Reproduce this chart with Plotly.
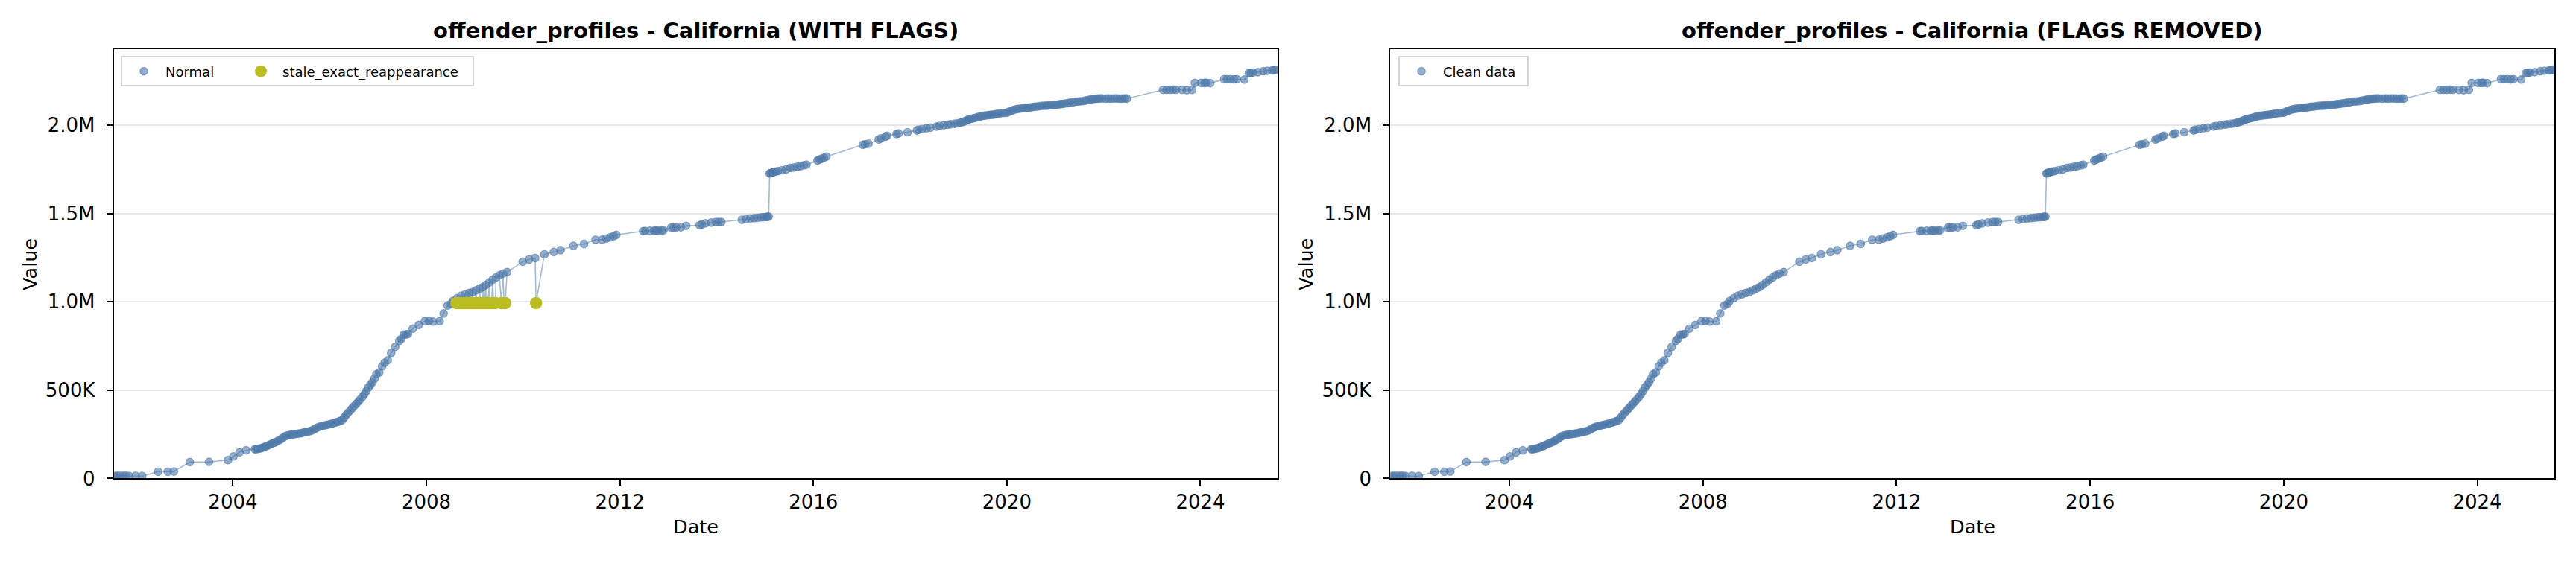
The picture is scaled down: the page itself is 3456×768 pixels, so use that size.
import plotly.graph_objects as go

# ---------------- data ----------------
normal_dates = [
    "2001-07-20", "2001-08-10", "2001-09-01", "2001-09-25", "2001-10-15", "2001-11-08", "2001-12-28", "2002-02-15",
    "2002-06-15", "2002-08-28", "2002-10-12", "2003-02-10", "2003-07-05", "2003-11-25", "2004-01-05", "2004-02-20", "2004-04-10", "2004-06-15",
    "2004-06-25", "2004-07-10", "2004-07-25", "2004-08-10", "2004-08-25", "2004-09-10", "2004-09-25", "2004-10-10", "2004-10-25", "2004-11-10", "2004-11-25", "2004-12-10", "2004-12-28", "2005-01-12", "2005-01-28", "2005-02-12", "2005-03-01", "2005-03-18", "2005-04-05", "2005-04-22", "2005-05-10", "2005-05-28", "2005-06-15",
    "2005-07-01", "2005-07-18", "2005-08-05", "2005-08-22", "2005-09-08", "2005-09-25", "2005-10-12", "2005-10-30", "2005-11-15", "2005-12-02", "2005-12-20", "2006-01-08", "2006-01-25", "2006-02-12", "2006-03-01", "2006-03-18", "2006-04-05",
    "2006-04-20", "2006-05-05", "2006-05-20", "2006-06-05", "2006-06-20", "2006-07-05", "2006-07-20", "2006-08-05", "2006-08-20", "2006-09-05", "2006-09-20", "2006-10-05", "2006-10-20", "2006-11-05", "2006-11-20", "2006-12-05", "2006-12-20",
    "2007-01-10", "2007-02-01", "2007-02-20", "2007-03-15", "2007-04-10", "2007-05-10", "2007-06-10", "2007-06-25", "2007-07-15", "2007-08-01", "2007-08-15", "2007-09-20", "2007-11-05", "2007-12-20", "2008-01-20", "2008-02-20", "2008-04-10", "2008-05-10", "2008-06-10", "2008-07-05",
    "2008-07-20", "2008-08-20", "2008-09-20", "2008-10-20", "2008-11-20", "2008-12-15", "2009-01-10", "2009-02-05", "2009-03-01", "2009-03-25", "2009-04-20", "2009-05-15", "2009-06-10", "2009-07-05", "2009-08-01", "2009-09-01",
    "2009-12-28", "2010-02-15", "2010-04-01", "2010-06-10", "2010-08-20", "2010-10-10", "2011-01-15", "2011-04-05", "2011-07-01", "2011-08-20", "2011-09-20", "2011-10-20", "2011-11-15", "2011-12-05",
    "2012-06-25", "2012-07-10", "2012-08-15", "2012-09-15", "2012-10-01", "2012-10-15", "2012-11-10", "2012-11-25", "2013-01-22", "2013-02-10", "2013-03-01", "2013-04-05", "2013-05-15", "2013-08-25", "2013-09-10", "2013-10-08", "2013-11-20", "2013-12-25", "2014-01-15", "2014-02-05",
    "2014-07-10", "2014-08-10", "2014-09-12", "2014-10-10", "2014-11-05", "2014-12-01", "2014-12-20", "2015-01-10", "2015-01-20", "2015-01-28",
    "2015-02-05", "2015-02-12", "2015-02-25", "2015-03-05", "2015-03-20", "2015-04-10", "2015-05-10", "2015-06-10", "2015-07-12", "2015-08-05", "2015-09-01", "2015-09-25", "2015-10-22", "2015-11-10", "2016-02-01", "2016-02-15", "2016-03-01", "2016-03-20", "2016-04-08",
    "2017-01-08", "2017-01-25", "2017-02-20", "2017-05-08", "2017-05-25", "2017-06-28", "2017-07-10", "2017-09-20", "2017-10-05", "2017-12-12", "2018-02-20", "2018-03-05", "2018-04-01", "2018-05-05", "2018-06-03", "2018-07-20", "2018-08-10", "2018-09-12", "2018-10-10", "2018-11-01", "2018-12-01", "2018-12-24",
    "2019-01-15", "2019-02-01", "2019-02-18", "2019-03-05", "2019-03-20", "2019-04-05", "2019-04-22", "2019-05-10", "2019-05-28", "2019-06-15", "2019-07-02", "2019-07-20", "2019-08-08", "2019-08-25", "2019-09-10", "2019-09-25", "2019-10-12", "2019-11-01", "2019-11-20", "2019-12-10",
    "2020-01-01", "2020-01-15", "2020-02-01", "2020-02-20", "2020-03-10", "2020-03-28", "2020-04-15", "2020-05-02", "2020-05-20", "2020-06-05", "2020-06-20", "2020-07-08", "2020-07-25", "2020-08-12", "2020-09-01", "2020-09-20", "2020-10-10", "2020-10-25", "2020-11-10", "2020-11-28", "2020-12-15",
    "2021-01-02", "2021-01-20", "2021-02-05", "2021-02-20", "2021-03-10", "2021-04-01", "2021-04-20", "2021-05-10", "2021-05-30", "2021-06-20", "2021-07-10", "2021-08-01", "2021-08-20", "2021-09-10", "2021-09-28", "2021-10-15", "2021-11-01", "2021-11-15", "2021-12-01", "2021-12-20",
    "2022-01-15", "2022-02-05", "2022-02-25", "2022-03-20", "2022-04-10", "2022-05-01", "2022-05-20", "2022-06-10", "2022-06-25",
    "2023-03-25", "2023-04-20", "2023-05-15", "2023-06-10", "2023-07-01", "2023-08-15", "2023-09-20", "2023-10-30", "2023-11-20", "2024-01-08", "2024-02-01", "2024-02-15", "2024-03-15",
    "2024-06-28", "2024-07-20", "2024-08-15", "2024-09-10", "2024-10-01", "2024-11-28", "2025-01-01", "2025-01-15", "2025-02-01", "2025-03-10", "2025-04-20", "2025-05-20", "2025-06-25", "2025-07-10", "2025-07-24",
]
normal_values = [
    14000, 15000, 15500, 14500, 15000, 14000, 14500, 13500,
    38000, 38000, 39000, 93000, 94000, 104000, 125000, 148000, 159000, 166000,
    166000, 168000, 170000, 173000, 178000, 183000, 188000, 193000, 198000, 203000, 208000, 214000, 222000, 230000, 238000, 243000, 246000, 248000, 250000, 252000, 254000, 256000, 259000,
    262000, 265000, 268000, 272000, 280000, 287000, 292000, 296000, 299000, 302000, 305000, 308000, 312000, 316000, 320000, 325000, 330000,
    345000, 360000, 372000, 385000, 398000, 410000, 422000, 435000, 448000, 462000, 478000, 495000, 515000, 530000, 545000, 565000, 590000,
    600000, 635000, 655000, 669000, 711000, 745000, 779000, 790000, 814000, 815000, 818000, 848000, 869000, 890000, 892000, 888000, 890000, 934000, 979000, 989000,
    1005000, 1020000, 1034000, 1042000, 1050000, 1055000, 1065000, 1075000, 1083000, 1095000, 1110000, 1125000, 1138000, 1150000, 1160000, 1168000,
    1227000, 1240000, 1248000, 1269000, 1282000, 1292000, 1317000, 1328000, 1351000, 1351000, 1358000, 1365000, 1372000, 1379000,
    1400000, 1401000, 1402000, 1403000, 1403000, 1403000, 1404000, 1405000, 1420000, 1420000, 1421000, 1422000, 1430000, 1434000, 1438000, 1444000, 1448000, 1452000, 1452000, 1452000,
    1464000, 1468000, 1472000, 1474000, 1476000, 1478000, 1479000, 1480000, 1481000, 1482000,
    1727000, 1729000, 1732000, 1734000, 1737000, 1740000, 1745000, 1750000, 1758000, 1760000, 1765000, 1768000, 1773000, 1776000, 1800000, 1805000, 1810000, 1815000, 1822000,
    1889000, 1892000, 1895000, 1919000, 1925000, 1935000, 1940000, 1950000, 1953000, 1960000, 1970000, 1974000, 1978000, 1983000, 1986000, 1992000, 1996000, 2000000, 2003000, 2005000, 2008000, 2010000,
    2014000, 2018000, 2023000, 2028000, 2032000, 2036000, 2039000, 2042000, 2046000, 2050000, 2052000, 2054000, 2056000, 2058000, 2059000, 2060000, 2063000, 2066000, 2068000, 2069000,
    2070000, 2076000, 2080000, 2086000, 2090000, 2092000, 2094000, 2096000, 2097000, 2099000, 2100000, 2102000, 2104000, 2105000, 2107000, 2109000, 2110000, 2110000, 2111000, 2113000, 2114000,
    2116000, 2117000, 2119000, 2120000, 2122000, 2124000, 2127000, 2129000, 2132000, 2134000, 2135000, 2137000, 2140000, 2143000, 2146000, 2148000, 2149000, 2150000, 2151000, 2151000,
    2150000, 2151000, 2150000, 2151000, 2151000, 2150000, 2150000, 2151000, 2150000,
    2200000, 2200000, 2200000, 2201000, 2200000, 2200000, 2198000, 2200000, 2239000, 2239000, 2239000, 2240000, 2238000,
    2260000, 2260000, 2260000, 2259000, 2260000, 2258000, 2294000, 2296000, 2298000, 2300000, 2305000, 2308000, 2310000, 2312000, 2314000,
]

stale_dates = [
    "2008-08-15", "2008-08-29", "2008-09-12", "2008-09-26", "2008-10-10", "2008-10-24",
    "2008-11-07", "2008-11-21", "2008-12-05", "2008-12-19", "2009-01-02", "2009-01-16",
    "2009-01-30", "2009-02-13", "2009-02-27", "2009-03-13", "2009-03-27", "2009-04-10",
    "2009-04-24", "2009-05-08", "2009-05-22", "2009-06-05", "2009-07-20", "2009-08-10",
    "2009-08-18", "2010-04-08",
]
stale_values = [
    993000, 993000, 993000, 993000, 993000, 993000,
    993000, 993000, 993000, 993000, 993000, 993000,
    993000, 993000, 993000, 993000, 993000, 993000,
    993000, 993000, 993000, 993000, 993000, 993000,
    993000, 993000,
]

y_tick_values = [0, 500000, 1000000, 1500000, 2000000]
y_tick_labels = ["0", "500K", "1.0M", "1.5M", "2.0M"]
x_tick_values = ["2004-01-01", "2008-01-01", "2012-01-01", "2016-01-01", "2020-01-01", "2024-01-01"]
x_tick_labels = ["2004", "2008", "2012", "2016", "2020", "2024"]

x_range = ["2001-07-16", "2025-08-05"]
y_range = [0, 2429000]

assert len(normal_dates) == len(normal_values)
assert len(stale_dates) == len(stale_values)

# all points (with flags) in date order, for the connecting line
all_points = sorted(zip(normal_dates + stale_dates, normal_values + stale_values))
all_dates = [d for d, _ in all_points]
all_values = [v for _, v in all_points]

# ---------------- style ----------------
W, H = 3456, 768
FONT = "DejaVu Sans"
BLUE_FILL = "rgba(76,120,168,0.6)"
BLUE_EDGE = "rgba(76,120,168,0.6)"
LINE_COL = "rgba(76,120,168,0.5)"
OLIVE = "#bcbd22"


def px(x):
    return x / W


def py(y):
    return 1 - y / H


fig = go.Figure()

# Left panel
fig.add_trace(go.Scatter(x=all_dates, y=all_values, mode="lines",
                         line=dict(color=LINE_COL, width=1.6), showlegend=False,
                         xaxis="x", yaxis="y", hoverinfo="skip"))
fig.add_trace(go.Scatter(x=normal_dates, y=normal_values, mode="markers", name="Normal",
                         marker=dict(size=10.5, color=BLUE_FILL, line=dict(color=BLUE_EDGE, width=1.2)),
                         xaxis="x", yaxis="y", legend="legend", legendwidth=94))
fig.add_trace(go.Scatter(x=stale_dates, y=stale_values, mode="markers", name="stale_exact_reappearance",
                         marker=dict(size=16.5, color=OLIVE, line=dict(width=0)),
                         xaxis="x", yaxis="y", legend="legend", legendwidth=250))

# Right panel
fig.add_trace(go.Scatter(x=normal_dates, y=normal_values, mode="lines",
                         line=dict(color=LINE_COL, width=1.6), showlegend=False,
                         xaxis="x2", yaxis="y2", hoverinfo="skip"))
fig.add_trace(go.Scatter(x=normal_dates, y=normal_values, mode="markers", name="Clean data",
                         marker=dict(size=10.5, color=BLUE_FILL, line=dict(color=BLUE_EDGE, width=1.2)),
                         xaxis="x2", yaxis="y2", legend="legend2", legendwidth=108))

left_dom = [px(152.7), px(1713.9)]
right_dom = [px(1865.3), px(3427.0)]
y_dom = [py(655.2), py(67.6)]

common_x = dict(type="date", range=x_range, tickmode="array", tickvals=x_tick_values,
                ticktext=x_tick_labels, showgrid=False, zeroline=False,
                showline=True, mirror=True, linecolor="black", linewidth=2,
                ticks="outside", ticklen=8, tickwidth=2, tickcolor="black",
                tickfont=dict(family=FONT, size=26, color="black"), ticklabelstandoff=-1)
common_y = dict(range=y_range, tickmode="array", tickvals=y_tick_values, ticktext=y_tick_labels,
                showgrid=True, gridcolor="#e6e6e6", gridwidth=2, zeroline=False,
                showline=True, mirror=True, linecolor="black", linewidth=2,
                ticks="outside", ticklen=8, tickwidth=2, tickcolor="black",
                tickfont=dict(family=FONT, size=26, color="black"), ticklabelstandoff=10,
                domain=y_dom)

legend_common = dict(orientation="h", xanchor="left", yanchor="top", bgcolor="white",
                     bordercolor="#d4d4d4", borderwidth=2,
                     font=dict(family=FONT, size=18, color="black"), itemwidth=48)

annotations = [
    dict(text="<b>offender_profiles - California (WITH FLAGS)</b>", x=(left_dom[0] + left_dom[1]) / 2,
         y=py(41.6), xref="paper", yref="paper", showarrow=False, xanchor="center", yanchor="middle",
         font=dict(family=FONT, size=29, color="black")),
    dict(text="<b>offender_profiles - California (FLAGS REMOVED)</b>", x=(right_dom[0] + right_dom[1]) / 2,
         y=py(41.6), xref="paper", yref="paper", showarrow=False, xanchor="center", yanchor="middle",
         font=dict(family=FONT, size=29, color="black")),
    dict(text="Date", x=(left_dom[0] + left_dom[1]) / 2, y=py(721), xref="paper", yref="paper",
         showarrow=False, xanchor="center", yanchor="middle", font=dict(family=FONT, size=25.5, color="black")),
    dict(text="Date", x=(right_dom[0] + right_dom[1]) / 2, y=py(721), xref="paper", yref="paper",
         showarrow=False, xanchor="center", yanchor="middle", font=dict(family=FONT, size=25.5, color="black")),
    dict(text="Value", x=px(40), y=py(362), xref="paper", yref="paper", textangle=-90,
         showarrow=False, xanchor="center", yanchor="middle", font=dict(family=FONT, size=25.5, color="black")),
    dict(text="Value", x=px(1751.7), y=py(362), xref="paper", yref="paper", textangle=-90,
         showarrow=False, xanchor="center", yanchor="middle", font=dict(family=FONT, size=25.5, color="black")),
]

fig.update_layout(
    width=W, height=H, autosize=False,
    margin=dict(l=0, r=0, t=0, b=0, pad=0),
    paper_bgcolor="white", plot_bgcolor="white",
    font=dict(family=FONT, color="black"),
    xaxis=dict(common_x, domain=left_dom, anchor="y"),
    yaxis=dict(common_y, anchor="x"),
    xaxis2=dict(common_x, domain=right_dom, anchor="y2"),
    yaxis2=dict(common_y, anchor="x2"),
    legend=dict(legend_common, x=px(162), y=py(77)),
    legend2=dict(legend_common, x=px(1876), y=py(77)),
    annotations=annotations,
    hovermode=False,
)

# pin the figure to the top-left corner of the page, with no page margin
page_fix = ("}); (function(){"
            "var h=document.documentElement, b=document.body, g=document.getElementById('{plot_id}');"
            "h.style.margin='0'; h.style.padding='0'; h.style.overflow='hidden';"
            "b.style.margin='0'; b.style.padding='0'; b.style.overflow='hidden';"
            "if(g){g.style.position='fixed'; g.style.left='0px'; g.style.top='0px';}"
            "})(); (function(){")

fig.write_html("out.html", config={"displayModeBar": False}, post_script=page_fix)
